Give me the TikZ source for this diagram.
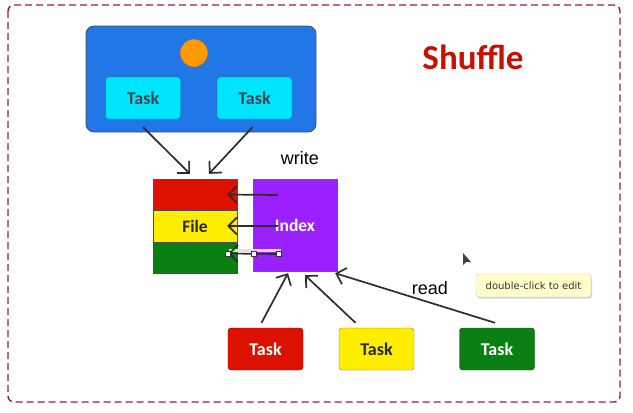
\documentclass[tikz,border=0pt]{standalone}
\usepackage{fontspec}
\setmainfont{Carlito}
\newfontfamily\labelfont{Liberation Sans}
\newfontfamily\tipfont{DejaVu Sans}
\usetikzlibrary{arrows.meta,calc,shadows}

\definecolor{bordercol}{RGB}{150,35,35}
\definecolor{stageblue}{RGB}{34,119,230}
\definecolor{taskcyan}{RGB}{0,229,255}
\definecolor{dotorange}{RGB}{255,153,0}
\definecolor{taskred}{RGB}{221,17,0}
\definecolor{taskyellow}{RGB}{255,238,0}
\definecolor{taskgreen}{RGB}{10,128,20}
\definecolor{idxpurple}{RGB}{155,32,255}
\definecolor{titlered}{RGB}{200,16,0}
\definecolor{tipyellow}{RGB}{255,255,204}
\definecolor{linegray}{RGB}{45,45,45}

\tikzset{
  taskbox/.style={draw=#1!55!black, fill=#1, rounded corners=3pt, minimum width=75pt,
    minimum height=42pt, inner sep=0pt, font=\fontsize{18}{18}\selectfont\bfseries},
  filepart/.style={draw=black!70, fill=#1, minimum width=84pt, inner sep=0pt,
    font=\fontsize{17.5}{18}\selectfont\bfseries},
  conn/.style={draw=linegray, line width=1.7pt, -{Straight Barb[length=8.5pt,width=17pt,line width=1.7pt]}},
  handle/.style={draw=black!80, fill=white, minimum size=5pt, inner sep=0pt, line width=0.6pt},
}

\begin{document}
\begin{tikzpicture}[x=1pt,y=-1pt]
  \useasboundingbox (0,0) rectangle (633,413);
  \draw[bordercol, dash pattern=on 7pt off 4pt, line width=1.4pt, rounded corners=6pt] (8,5) rectangle (620,402);

  % map side
  \node[draw=black!70, fill=stageblue, rounded corners=8pt, minimum width=230pt, minimum height=106pt, line width=0.8pt] (stage) at (201,79) {};
  \node[circle, draw=black!60, fill=dotorange, minimum size=28pt, inner sep=0pt] (dot) at (194,53) {};
  \node[taskbox=taskcyan, text=black!80!cyan] (up1) at (143,98) {Task};
  \node[taskbox=taskcyan, text=black!80!cyan] (up2) at (254.5,98) {Task};

  \node[font=\fontsize{35}{35}\selectfont\bfseries, text=titlered] (title) at (473,57) {Shuffle};

  % file and index
  \node[filepart=taskred, minimum height=31pt] (fred) at (195,194.5) {};
  \node[filepart=taskyellow, minimum height=32pt, text=black!85] (fyel) at (195,226) {File};
  \node[filepart=taskgreen, minimum height=31pt] (fgrn) at (195,257.5) {};
  \node[draw=black!60, fill=idxpurple, minimum width=84pt, minimum height=92pt, inner sep=0pt,
    text=white, font=\fontsize{17.5}{18}\selectfont\bfseries] (index) at (295,225) {Index};

  \node[font=\labelfont\fontsize{18}{18}\selectfont] (write) at (300,158) {write};
  \node[font=\labelfont\fontsize{18}{18}\selectfont] (read) at (430,288) {read};

  \draw[conn] ($(up1.south)+(0,8)$) -- ($(fred.north)+(-5,-5)$);
  \draw[conn] ($(up2.south)+(-2,8)$) -- ($(fred.north)+(14,-5)$);

  \draw[conn] ($(index.west)+(25,-30)$) -- ($(fred.east)+(-10,0)$);
  \draw[conn] ($(index.west)+(25,1)$) -- ($(fyel.east)+(-10,0)$);
  \fill[black!12] ($(fgrn.east)+(-8,-9)$) rectangle ($(index.west)+(28,27)$);
  \draw[conn] ($(index.west)+(26,29)$) -- ($(fgrn.east)+(-9,-4)$);
  \node[handle] (h1) at ($(fgrn.east)+(-9,-4)$) {};
  \node[handle] (h2) at ($(index.west)+(1,29)$) {};
  \node[handle] (h3) at ($(index.west)+(26,29)$) {};

  % reduce side
  \node[taskbox=taskred, text=white] (rtask) at (265.5,349) {Task};
  \node[taskbox=taskyellow, text=black!85] (ytask) at (376.5,349) {Task};
  \node[taskbox=taskgreen, text=white] (gtask) at (497,349) {Task};

  \draw[conn] ($(rtask.north)+(-4,-5)$) -- ($(index.south)+(-7,2)$);
  \draw[conn] ($(ytask.north)+(-21,-5)$) -- ($(index.south)+(10,4)$);
  \draw[conn] ($(gtask.north)+(-2,-5)$) -- ($(index.south east)+(-2,2)$);

  % editor bits
  \fill[black!75] (463,253) -- (463,265) -- (466,262) -- (471,262) -- cycle;
  \node[draw=black!20, fill=tipyellow, rounded corners=3pt, minimum width=115pt, minimum height=23pt,
    inner sep=0pt, font=\tipfont\fontsize{10}{10}\selectfont, text=black!80,
    drop shadow={shadow xshift=1pt, shadow yshift=-1.5pt, opacity=0.35}] (tip) at (533.5,285.5) {double-click to edit};
\end{tikzpicture}
\end{document}
